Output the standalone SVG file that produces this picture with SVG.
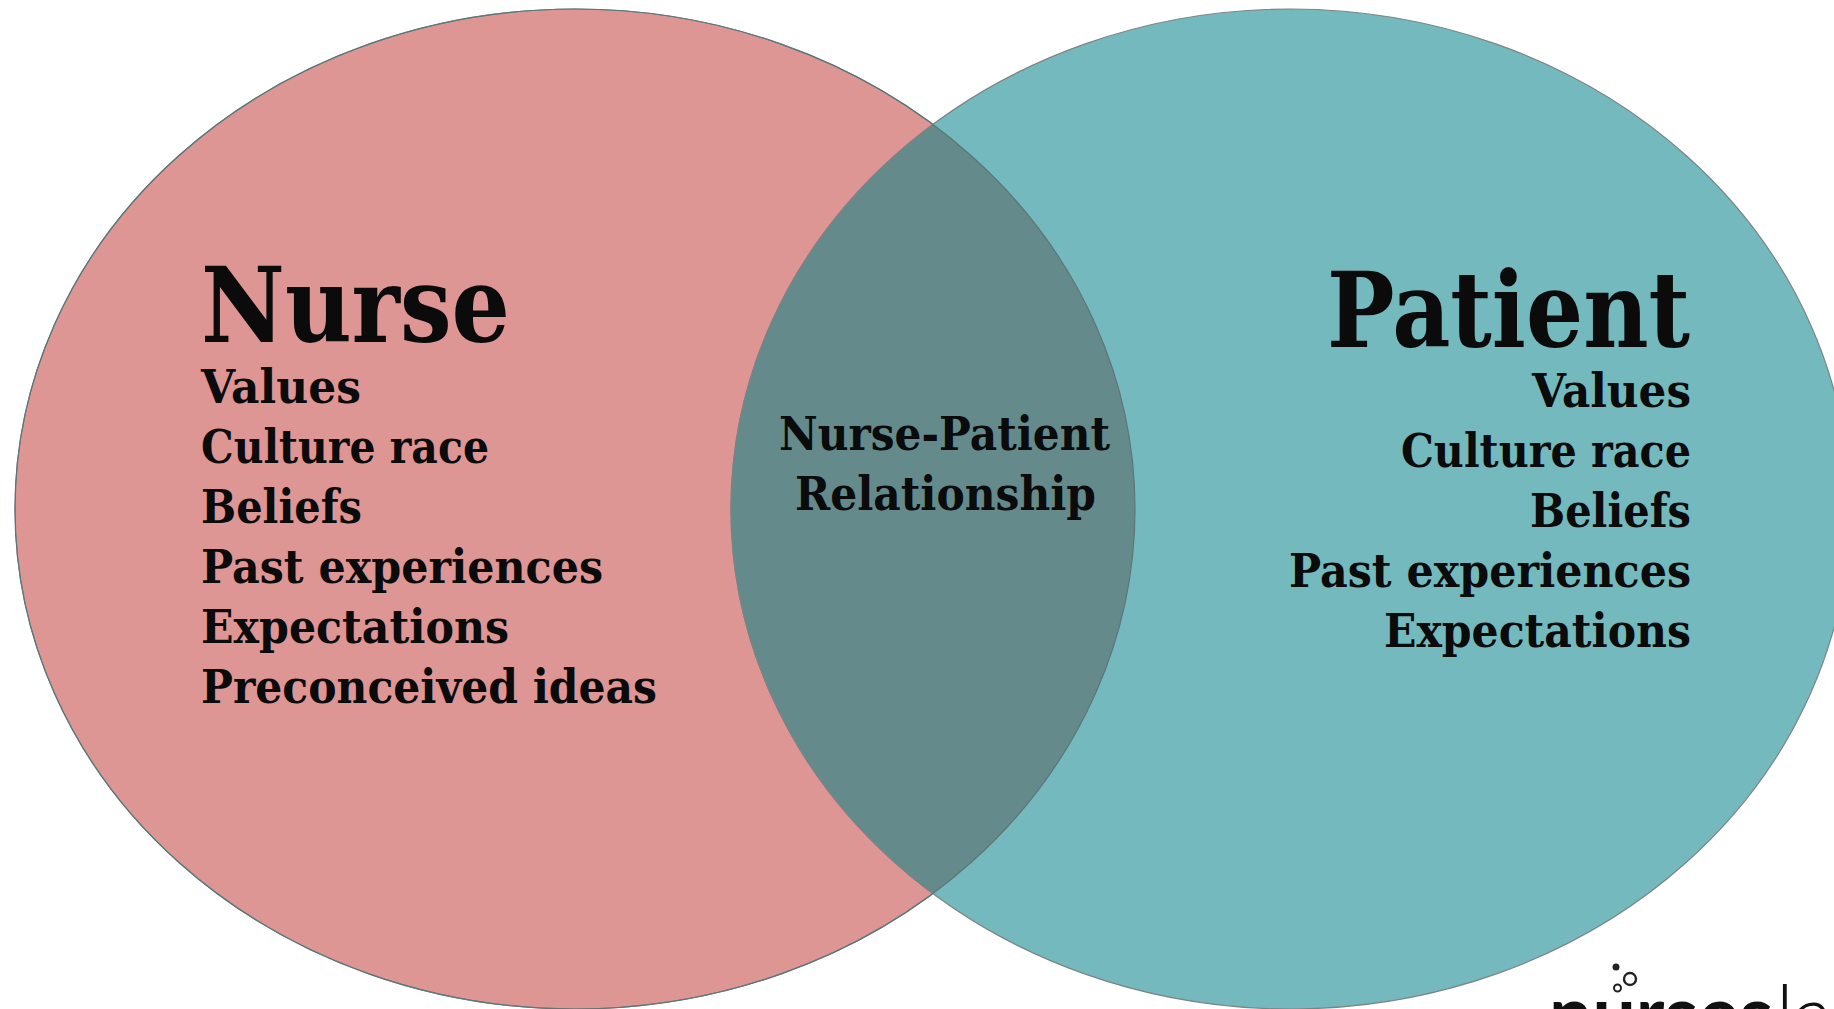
<svg xmlns="http://www.w3.org/2000/svg" width="1834" height="1009" viewBox="0 0 1834 1009">
<style>
text{font-family:"DejaVu Serif","Liberation Serif",serif;font-weight:700;fill:#0b0b0b}
.h{font-size:104px}
.t{font-size:47px}
text.logo{font-family:Lato,"Liberation Sans",sans-serif;font-size:80px;fill:#111}
text.lt{font-weight:300}
.e{stroke:#7b8484;stroke-width:1.2}
</style>
<defs><clipPath id="lc"><ellipse cx="575" cy="509" rx="560" ry="500"/></clipPath></defs>
<rect width="1834" height="1009" fill="#fff"/>
<g id="nurse-circle"><ellipse class="e" cx="575" cy="509" rx="560" ry="500" fill="#de9695"/></g>
<g id="patient-circle"><ellipse class="e" cx="1290.5" cy="509" rx="559.5" ry="500" fill="#74b9bd"/></g>
<g id="overlap"><ellipse class="e" cx="1290.5" cy="509" rx="559.5" ry="500" fill="#648a8c" clip-path="url(#lc)"/><ellipse cx="575" cy="509" rx="560" ry="500" fill="none" stroke="#5b7778" stroke-width="1.2"/></g>
<g id="nurse-text">
<text class="h" x="201" y="342" textLength="309" lengthAdjust="spacingAndGlyphs">Nurse</text>
<text class="t" x="201" y="403" textLength="160" lengthAdjust="spacingAndGlyphs">Values</text>
<text class="t" x="201" y="463" textLength="288" lengthAdjust="spacingAndGlyphs">Culture race</text>
<text class="t" x="201" y="523" textLength="161" lengthAdjust="spacingAndGlyphs">Beliefs</text>
<text class="t" x="201" y="583" textLength="402" lengthAdjust="spacingAndGlyphs">Past experiences</text>
<text class="t" x="201" y="643" textLength="308" lengthAdjust="spacingAndGlyphs">Expectations</text>
<text class="t" x="201" y="703" textLength="456" lengthAdjust="spacingAndGlyphs">Preconceived ideas</text>
</g>
<g id="patient-text">
<text class="h" x="1327" y="347" textLength="363" lengthAdjust="spacingAndGlyphs">Patient</text>
<text class="t" x="1532" y="407" textLength="159" lengthAdjust="spacingAndGlyphs">Values</text>
<text class="t" x="1401" y="467" textLength="290" lengthAdjust="spacingAndGlyphs">Culture race</text>
<text class="t" x="1530" y="527" textLength="161" lengthAdjust="spacingAndGlyphs">Beliefs</text>
<text class="t" x="1289" y="587" textLength="402" lengthAdjust="spacingAndGlyphs">Past experiences</text>
<text class="t" x="1384" y="647" textLength="307" lengthAdjust="spacingAndGlyphs">Expectations</text>
</g>
<g id="relationship-text">
<text class="t" x="779" y="450" textLength="331" lengthAdjust="spacingAndGlyphs">Nurse-Patient</text>
<text class="t" x="795" y="510" textLength="301" lengthAdjust="spacingAndGlyphs">Relationship</text>
</g>
<g id="logo">
<circle cx="1616" cy="967" r="3.5" fill="#222"/>
<circle cx="1630" cy="979" r="6" fill="none" stroke="#222" stroke-width="2.4"/>
<circle cx="1617.5" cy="988" r="3.5" fill="none" stroke="#222" stroke-width="2"/>
<text class="logo" x="1549" y="1043" textLength="224" lengthAdjust="spacingAndGlyphs">nurses</text>
<text class="logo lt" x="1776" y="1043">labs</text>
</g>
</svg>
